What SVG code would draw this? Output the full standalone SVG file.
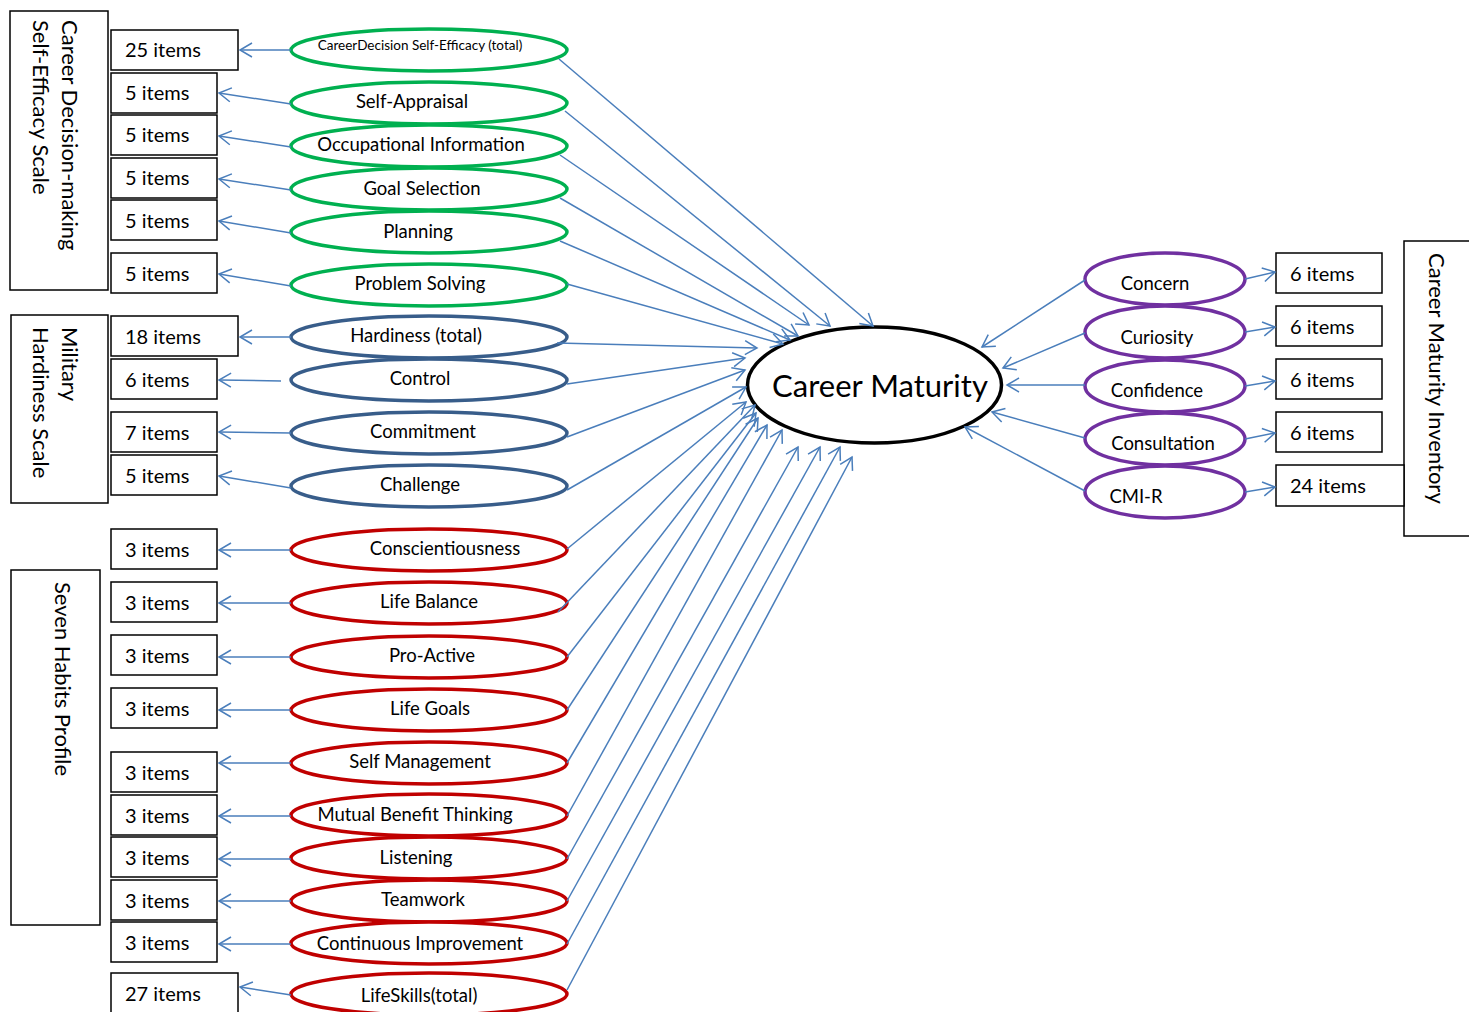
<svg xmlns="http://www.w3.org/2000/svg" width="1469" height="1012" viewBox="0 0 1469 1012">
<defs>
<style>
.box{fill:#fff;stroke:#000;stroke-width:1.5}
.t{font-family:Lato,"Open Sans","Liberation Sans",sans-serif;fill:#000}
.it{font-size:20px}
.lb{font-size:18.5px;text-anchor:middle}
.rt{font-size:22px}
.g{fill:#fff;stroke:#00B050;stroke-width:3.5}
.b{fill:#fff;stroke:#385D8A;stroke-width:3.5}
.r{fill:#fff;stroke:#C00000;stroke-width:3.5}
.p{fill:#fff;stroke:#7030A0;stroke-width:3.5}
.c{stroke:#4A7EBB;stroke-width:1.5;fill:none;marker-end:url(#ah)}
</style>
<marker id="ah" markerUnits="userSpaceOnUse" markerWidth="16" markerHeight="18" refX="12" refY="7" orient="auto" viewBox="-2 -2 16 18">
<path d="M0,0 L12,7 L0,14" fill="none" stroke="#4A7EBB" stroke-width="1.5"/>
</marker>
</defs>
<rect width="1469" height="1012" fill="#fff"/>

<!-- scale boxes -->
<g id="cdse-scale"><rect class="box" x="10" y="11" width="98" height="279"/>
<text class="t rt" transform="translate(62,20) rotate(90)">Career Decision-making</text>
<text class="t rt" transform="translate(33,20) rotate(90)">Self-Efficacy Scale</text></g>
<g id="mh-scale"><rect class="box" x="11" y="315" width="97" height="188"/>
<text class="t rt" transform="translate(62,327) rotate(90)">Military</text>
<text class="t rt" transform="translate(33,327) rotate(90)">Hardiness Scale</text></g>
<g id="sh-scale"><rect class="box" x="11" y="570" width="89" height="355"/>
<text class="t rt" transform="translate(55,582) rotate(90)">Seven Habits Profile</text></g>
<g id="cmi-scale"><rect class="box" x="1404" y="241" width="80" height="295"/>
<text class="t rt" transform="translate(1429,253) rotate(90)">Career Maturity Inventory</text></g>

<!-- item boxes left -->
<g id="i1"><rect class="box" x="111" y="30" width="127" height="40"/><text class="t it" x="125" y="57">25 items</text></g>
<g id="i2"><rect class="box" x="111" y="73" width="106" height="40"/><text class="t it" x="125" y="100">5 items</text></g>
<g id="i3"><rect class="box" x="111" y="115" width="106" height="40"/><text class="t it" x="125" y="142">5 items</text></g>
<g id="i4"><rect class="box" x="111" y="158" width="106" height="40"/><text class="t it" x="125" y="185">5 items</text></g>
<g id="i5"><rect class="box" x="111" y="200" width="106" height="40"/><text class="t it" x="125" y="228">5 items</text></g>
<g id="i6"><rect class="box" x="111" y="253" width="106" height="40"/><text class="t it" x="125" y="281">5 items</text></g>
<g id="i7"><rect class="box" x="111" y="316" width="127" height="40"/><text class="t it" x="125" y="344">18 items</text></g>
<g id="i8"><rect class="box" x="111" y="359" width="106" height="40"/><text class="t it" x="125" y="387">6 items</text></g>
<g id="i9"><rect class="box" x="111" y="412" width="106" height="40"/><text class="t it" x="125" y="440">7 items</text></g>
<g id="i10"><rect class="box" x="111" y="455" width="106" height="40"/><text class="t it" x="125" y="483">5 items</text></g>
<g id="i11"><rect class="box" x="111" y="529" width="106" height="40"/><text class="t it" x="125" y="557">3 items</text></g>
<g id="i12"><rect class="box" x="111" y="582" width="106" height="40"/><text class="t it" x="125" y="610">3 items</text></g>
<g id="i13"><rect class="box" x="111" y="635" width="106" height="40"/><text class="t it" x="125" y="663">3 items</text></g>
<g id="i14"><rect class="box" x="111" y="688" width="106" height="40"/><text class="t it" x="125" y="716">3 items</text></g>
<g id="i15"><rect class="box" x="111" y="752" width="106" height="40"/><text class="t it" x="125" y="780">3 items</text></g>
<g id="i16"><rect class="box" x="111" y="795" width="106" height="40"/><text class="t it" x="125" y="823">3 items</text></g>
<g id="i17"><rect class="box" x="111" y="837" width="106" height="40"/><text class="t it" x="125" y="865">3 items</text></g>
<g id="i18"><rect class="box" x="111" y="880" width="106" height="40"/><text class="t it" x="125" y="908">3 items</text></g>
<g id="i19"><rect class="box" x="111" y="922" width="106" height="40"/><text class="t it" x="125" y="950">3 items</text></g>
<g id="i20"><rect class="box" x="111" y="973" width="127" height="42"/><text class="t it" x="125" y="1001">27 items</text></g>

<!-- item boxes right -->
<g id="j1"><rect class="box" x="1276" y="253" width="106" height="40"/><text class="t it" x="1290" y="281">6 items</text></g>
<g id="j2"><rect class="box" x="1276" y="306" width="106" height="40"/><text class="t it" x="1290" y="334">6 items</text></g>
<g id="j3"><rect class="box" x="1276" y="359" width="106" height="40"/><text class="t it" x="1290" y="387">6 items</text></g>
<g id="j4"><rect class="box" x="1276" y="412" width="106" height="40"/><text class="t it" x="1290" y="440">6 items</text></g>
<g id="j5"><rect class="box" x="1276" y="465" width="128" height="41"/><text class="t it" x="1290" y="493">24 items</text></g>

<!-- left ellipses -->
<g id="e1"><ellipse class="g" cx="429" cy="50" rx="138" ry="21"/><text class="t" x="420" y="50" font-size="13.5" text-anchor="middle">CareerDecision Self-Efficacy (total)</text></g>
<g id="e2"><ellipse class="g" cx="429" cy="103" rx="138" ry="21"/><text class="t lb" x="412" y="108">Self-Appraisal</text></g>
<g id="e3"><ellipse class="g" cx="429" cy="146" rx="138" ry="21"/><text class="t lb" x="421" y="151">Occupational Information</text></g>
<g id="e4"><ellipse class="g" cx="429" cy="189" rx="138" ry="21"/><text class="t lb" x="422" y="195">Goal Selection</text></g>
<g id="e5"><ellipse class="g" cx="429" cy="232" rx="138" ry="21"/><text class="t lb" x="418" y="238">Planning</text></g>
<g id="e6"><ellipse class="g" cx="429" cy="285" rx="138" ry="21"/><text class="t lb" x="420" y="290">Problem Solving</text></g>
<g id="e7"><ellipse class="b" cx="429" cy="337" rx="138" ry="21"/><text class="t lb" x="416" y="342">Hardiness (total)</text></g>
<g id="e8"><ellipse class="b" cx="429" cy="380" rx="138" ry="21"/><text class="t lb" x="420" y="385">Control</text></g>
<g id="e9"><ellipse class="b" cx="429" cy="433" rx="138" ry="21"/><text class="t lb" x="423" y="438">Commitment</text></g>
<g id="e10"><ellipse class="b" cx="429" cy="486" rx="138" ry="21"/><text class="t lb" x="420" y="491">Challenge</text></g>
<g id="e11"><ellipse class="r" cx="429" cy="550" rx="138" ry="21"/><text class="t lb" x="445" y="555">Conscientiousness</text></g>
<g id="e12"><ellipse class="r" cx="429" cy="603" rx="138" ry="21"/><text class="t lb" x="429" y="608">Life Balance</text></g>
<g id="e13"><ellipse class="r" cx="429" cy="657" rx="138" ry="21"/><text class="t lb" x="432" y="662">Pro-Active</text></g>
<g id="e14"><ellipse class="r" cx="429" cy="710" rx="138" ry="21"/><text class="t lb" x="430" y="715">Life Goals</text></g>
<g id="e15"><ellipse class="r" cx="429" cy="763" rx="138" ry="21"/><text class="t lb" x="420" y="768">Self Management</text></g>
<g id="e16"><ellipse class="r" cx="429" cy="815" rx="138" ry="21"/><text class="t lb" x="415" y="821">Mutual Benefit Thinking</text></g>
<g id="e17"><ellipse class="r" cx="429" cy="858" rx="138" ry="21"/><text class="t lb" x="416" y="864">Listening</text></g>
<g id="e18"><ellipse class="r" cx="429" cy="901" rx="138" ry="21"/><text class="t lb" x="423" y="906">Teamwork</text></g>
<g id="e19"><ellipse class="r" cx="429" cy="943" rx="138" ry="21"/><text class="t lb" x="420" y="950">Continuous Improvement</text></g>
<g id="e20"><ellipse class="r" cx="429" cy="994" rx="138" ry="21"/><text class="t lb" x="419" y="1002">LifeSkills(total)</text></g>

<!-- right ellipses -->
<g id="f1"><ellipse class="p" cx="1165" cy="279" rx="80" ry="26"/><text class="t lb" x="1155" y="290">Concern</text></g>
<g id="f2"><ellipse class="p" cx="1165" cy="332" rx="80" ry="26"/><text class="t lb" x="1157" y="344">Curiosity</text></g>
<g id="f3"><ellipse class="p" cx="1165" cy="386" rx="80" ry="26"/><text class="t lb" x="1157" y="397">Confidence</text></g>
<g id="f4"><ellipse class="p" cx="1165" cy="439" rx="80" ry="26"/><text class="t lb" x="1163" y="450">Consultation</text></g>
<g id="f5"><ellipse class="p" cx="1165" cy="492" rx="80" ry="26"/><text class="t lb" x="1136" y="503">CMI-R</text></g>

<!-- central -->
<g id="career-maturity"><ellipse cx="874.5" cy="385" rx="127" ry="58" fill="#fff" stroke="#000" stroke-width="3.5"/>
<text class="t" x="880" y="397" font-size="31" text-anchor="middle">Career Maturity</text></g>

<g id="connectors">
<line class="c" x1="291" y1="50" x2="240" y2="50"/>
<line class="c" x1="291" y1="104" x2="219" y2="93"/>
<line class="c" x1="291" y1="147" x2="219" y2="136"/>
<line class="c" x1="291" y1="190" x2="219" y2="179"/>
<line class="c" x1="291" y1="233" x2="219" y2="221"/>
<line class="c" x1="291" y1="286" x2="219" y2="274"/>
<line class="c" x1="291" y1="337" x2="240" y2="337"/>
<line class="c" x1="281" y1="381" x2="219" y2="380"/>
<line class="c" x1="291" y1="433" x2="219" y2="432"/>
<line class="c" x1="291" y1="488" x2="219" y2="476"/>
<line class="c" x1="291" y1="550" x2="219" y2="550"/>
<line class="c" x1="291" y1="603" x2="219" y2="603"/>
<line class="c" x1="291" y1="657" x2="219" y2="657"/>
<line class="c" x1="291" y1="710" x2="219" y2="710"/>
<line class="c" x1="291" y1="763" x2="219" y2="763"/>
<line class="c" x1="291" y1="816" x2="219" y2="816"/>
<line class="c" x1="291" y1="859" x2="219" y2="859"/>
<line class="c" x1="291" y1="901" x2="219" y2="901"/>
<line class="c" x1="291" y1="944" x2="219" y2="944"/>
<line class="c" x1="291" y1="995" x2="240" y2="987"/>

<line class="c" x1="559" y1="59" x2="873" y2="326"/>
<line class="c" x1="565" y1="111" x2="830" y2="326"/>
<line class="c" x1="560" y1="155" x2="809" y2="325"/>
<line class="c" x1="560" y1="198" x2="798" y2="336"/>
<line class="c" x1="560" y1="241" x2="790" y2="340"/>
<line class="c" x1="567" y1="284" x2="783" y2="344"/>
<line class="c" x1="557" y1="343" x2="757" y2="348"/>
<line class="c" x1="567" y1="384" x2="745" y2="358"/>
<line class="c" x1="567" y1="437" x2="745" y2="370"/>
<line class="c" x1="567" y1="490" x2="746" y2="387"/>
<line class="c" x1="567" y1="549" x2="746" y2="402"/>
<line class="c" x1="558" y1="612" x2="755" y2="405"/>
<line class="c" x1="567" y1="657" x2="756" y2="413"/>
<line class="c" x1="567" y1="710" x2="758" y2="418"/>
<line class="c" x1="567" y1="763" x2="767" y2="425"/>
<line class="c" x1="567" y1="816" x2="782" y2="430"/>
<line class="c" x1="567" y1="859" x2="798" y2="447"/>
<line class="c" x1="567" y1="901" x2="820" y2="447"/>
<line class="c" x1="567" y1="944" x2="840" y2="447"/>
<line class="c" x1="567" y1="990" x2="852" y2="457"/>

<line class="c" x1="1085" y1="280" x2="982" y2="347"/>
<line class="c" x1="1085" y1="333" x2="1003" y2="368"/>
<line class="c" x1="1085" y1="385" x2="1007" y2="385"/>
<line class="c" x1="1085" y1="438" x2="992" y2="412"/>
<line class="c" x1="1085" y1="491" x2="965" y2="427"/>

<line class="c" x1="1245" y1="279" x2="1275" y2="272"/>
<line class="c" x1="1245" y1="332" x2="1275" y2="327"/>
<line class="c" x1="1245" y1="386" x2="1275" y2="381"/>
<line class="c" x1="1245" y1="439" x2="1275" y2="433"/>
<line class="c" x1="1245" y1="492" x2="1275" y2="487"/>
</g>
</svg>
